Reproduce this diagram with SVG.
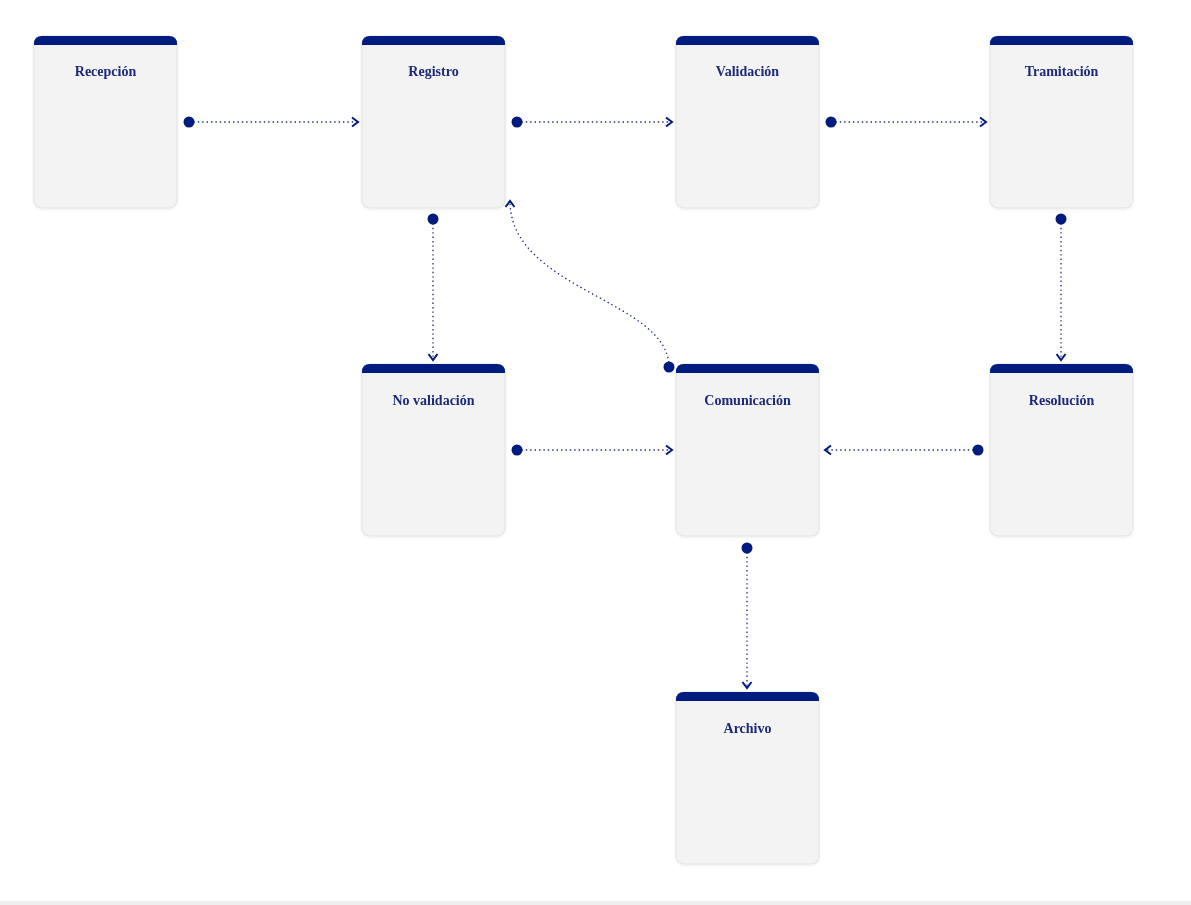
<svg xmlns="http://www.w3.org/2000/svg" width="1191" height="905" viewBox="0 0 1191 905">
<style>
.card{fill:#f3f3f3;stroke:#e4e4e4;stroke-width:1.2}
.bar{fill:#001a7e}
.title{font-family:"Liberation Serif",serif;font-weight:bold;font-size:14px;fill:#1b2a78;text-anchor:middle}
.link{fill:none;stroke:#1b2a78;stroke-width:1.3;stroke-dasharray:1.4 3;marker-end:url(#arr)}
.dot{fill:#001a7e}
</style>
<defs>
<filter id="sh" x="-10%" y="-10%" width="120%" height="120%">
<feDropShadow dx="0" dy="1" stdDeviation="1" flood-color="#000" flood-opacity="0.08"/>
</filter>
<marker id="arr" viewBox="0 0 12 12" refX="10" refY="6" markerWidth="12" markerHeight="12" markerUnits="userSpaceOnUse" orient="auto">
<path d="M4,1.5 L10,6 L4,10.5" fill="none" stroke="#001a7e" stroke-width="2"/>
</marker>
</defs>
<rect x="0" y="0" width="1191" height="905" fill="#fff"/>
<rect x="0" y="901" width="1191" height="4" fill="#efefef"/>
<g id="connectors">
<path class="link" d="M189,122 L358,122"/>
<path class="link" d="M517,122 L672,122"/>
<path class="link" d="M831,122 L986,122"/>
<path class="link" d="M1061,219 L1061,360"/>
<path class="link" d="M433,219 L433,360"/>
<path class="link" d="M669,367 C669,300 510,290 510,201"/>
<path class="link" d="M517,450 L672,450"/>
<path class="link" d="M978,450 L825,450"/>
<path class="link" d="M747,548 L747,688"/>
<circle class="dot" cx="189" cy="122" r="5.5"/>
<circle class="dot" cx="517" cy="122" r="5.5"/>
<circle class="dot" cx="831" cy="122" r="5.5"/>
<circle class="dot" cx="1061" cy="219" r="5.5"/>
<circle class="dot" cx="433" cy="219" r="5.5"/>
<circle class="dot" cx="669" cy="367" r="5.5"/>
<circle class="dot" cx="517" cy="450" r="5.5"/>
<circle class="dot" cx="978" cy="450" r="5.5"/>
<circle class="dot" cx="747" cy="548" r="5.5"/>
</g>
<g id="recepcion" filter="url(#sh)">
<rect class="card" x="34" y="36" width="143" height="172" rx="8"/>
<path class="bar" d="M34,45 L34,44 Q34,36 42,36 L169,36 Q177,36 177,44 L177,45 Z"/>
<text class="title" x="105.5" y="76">Recepción</text>
</g>
<g id="registro" filter="url(#sh)">
<rect class="card" x="362" y="36" width="143" height="172" rx="8"/>
<path class="bar" d="M362,45 L362,44 Q362,36 370,36 L497,36 Q505,36 505,44 L505,45 Z"/>
<text class="title" x="433.5" y="76">Registro</text>
</g>
<g id="validacion" filter="url(#sh)">
<rect class="card" x="676" y="36" width="143" height="172" rx="8"/>
<path class="bar" d="M676,45 L676,44 Q676,36 684,36 L811,36 Q819,36 819,44 L819,45 Z"/>
<text class="title" x="747.5" y="76">Validación</text>
</g>
<g id="tramitacion" filter="url(#sh)">
<rect class="card" x="990" y="36" width="143" height="172" rx="8"/>
<path class="bar" d="M990,45 L990,44 Q990,36 998,36 L1125,36 Q1133,36 1133,44 L1133,45 Z"/>
<text class="title" x="1061.5" y="76">Tramitación</text>
</g>
<g id="novalidacion" filter="url(#sh)">
<rect class="card" x="362" y="364" width="143" height="172" rx="8"/>
<path class="bar" d="M362,373 L362,372 Q362,364 370,364 L497,364 Q505,364 505,372 L505,373 Z"/>
<text class="title" x="433.5" y="405">No validación</text>
</g>
<g id="comunicacion" filter="url(#sh)">
<rect class="card" x="676" y="364" width="143" height="172" rx="8"/>
<path class="bar" d="M676,373 L676,372 Q676,364 684,364 L811,364 Q819,364 819,372 L819,373 Z"/>
<text class="title" x="747.5" y="405">Comunicación</text>
</g>
<g id="resolucion" filter="url(#sh)">
<rect class="card" x="990" y="364" width="143" height="172" rx="8"/>
<path class="bar" d="M990,373 L990,372 Q990,364 998,364 L1125,364 Q1133,364 1133,372 L1133,373 Z"/>
<text class="title" x="1061.5" y="405">Resolución</text>
</g>
<g id="archivo" filter="url(#sh)">
<rect class="card" x="676" y="692" width="143" height="172" rx="8"/>
<path class="bar" d="M676,701 L676,700 Q676,692 684,692 L811,692 Q819,692 819,700 L819,701 Z"/>
<text class="title" x="747.5" y="733">Archivo</text>
</g>
</svg>
